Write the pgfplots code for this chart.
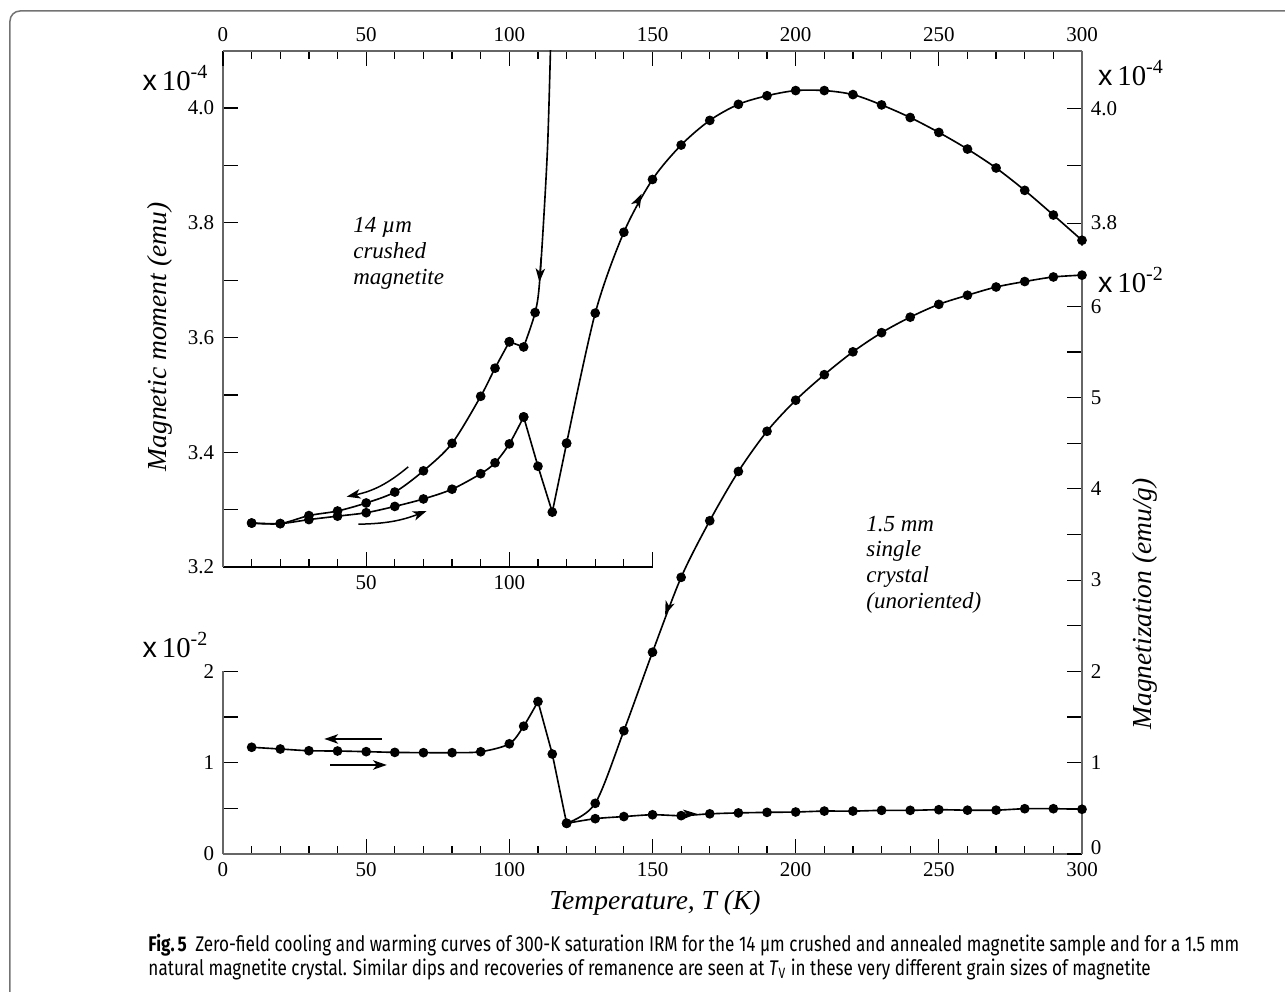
\documentclass[border=0pt]{standalone}
\usepackage{fontspec}
\setmainfont{Liberation Serif}
\setsansfont{Liberation Sans}
\newfontfamily\capfont{Fira Sans}
\usepackage{pgfplots}
\pgfplotsset{compat=1.18}
\usetikzlibrary{arrows.meta}

% 1 px of the reference = 0.4pt
\pgfplotsset{
  myframe/.style={scale only axis, xmin=0, xmax=300, width=343.6pt,
    tick style={black, line width=0.5pt},
    major tick length=6pt, minor tick length=3.2pt,
    tick label style={font=\fontsize{8.4}{10}\selectfont},
    /pgf/number format/assume math mode=true,
  },
  nolinearrows/.style={
    axis line style={-, black!60, line width=0.6pt},
    every outer x axis line/.append style={-},
    every outer y axis line/.append style={-},
    every inner x axis line/.append style={-},
    every inner y axis line/.append style={-},
  },
  mydata/.style={scale only axis, xmin=0, xmax=300, width=343.6pt,
    height=321.2pt, hide axis},
  curve/.style={black, line width=0.65pt},
  dots/.style={black, line width=0.65pt, mark=*, mark size=1.6pt,
    mark options={fill=black, solid}},
}
\tikzset{arr/.style={-{Stealth[length=5.5pt,width=3.8pt,inset=1.5pt]}, line width=0.6pt, black}}
\newcommand{\tenpow}[1]{{\sffamily x}\,10\raisebox{0.9ex}{\fontsize{8}{9}\selectfont #1}}

\begin{document}
\begin{tikzpicture}
\useasboundingbox (-89.2pt,-54.8pt) rectangle (424.8pt,341.6pt);

% frame corner
\draw[black!55, line width=0.6pt, rounded corners=4pt]
  (-85.2pt,-60pt) -- (-85.2pt,337.2pt) -- (430pt,337.2pt);

% bottom x axis and lower-left y axis (0..2 x 10^-2)
\begin{axis}[myframe, at={(0,0)}, anchor=south west, height=73.04pt,
  ymin=0, ymax=2,
  axis x line=bottom, axis y line=left, tick align=inside, nolinearrows,
  xtick={0,50,100,150,200,250,300}, xticklabels={0,50,100,150,200,250,300},
  minor xtick={10,20,30,40,60,70,80,90,110,120,130,140,160,170,180,190,210,220,230,240,260,270,280,290},
  ytick={0,0.5,1,1.5,2}, yticklabels={0,,1,,2}]
\end{axis}

% inset axis (14 um, x 10^-4 emu)
\begin{axis}[myframe, at={(0,114.8pt)}, anchor=south west,
  xmin=0, xmax=150, width=171.8pt, height=206.55pt,
  ymin=3.2, ymax=4.1,
  axis x line=bottom, axis y line=left, tick align=inside, nolinearrows,
  x axis line style={-, black, line width=0.8pt},
  xtick={50,100,150}, xticklabels={50,100,},
  minor xtick={10,20,30,40,60,70,80,90,110,120,130,140},
  ytick={3.2,3.3,3.4,3.5,3.6,3.7,3.8,3.9,4.0},
  yticklabels={3.2,,3.4,,3.6,,3.8,,4.0}]
\end{axis}

% top x axis and upper right y axis
\begin{axis}[myframe, at={(0,321.2pt)}, anchor=north west, height=78.03pt,
  ymin=3.76, ymax=4.1,
  axis x line=top, axis y line=right, tick align=inside, nolinearrows,
  xtick={0,50,100,150,200,250,300}, xticklabels={0,50,100,150,200,250,300},
  minor xtick={10,20,30,40,60,70,80,90,110,120,130,140,160,170,180,190,210,220,230,240,260,270,280,290},
  ytick={3.8,3.9,4.0}, yticklabels={3.8,,4.0}]
\end{axis}

% lower right y axis (x 10^-2 emu/g)
\begin{axis}[myframe, at={(0,0)}, anchor=south west, height=231.5pt,
  ymin=0, ymax=6.34,
  axis x line=none, axis y line=right, tick align=inside, nolinearrows, xtick=\empty,
  ytick={0,0.5,1,1.5,2,2.5,3,3.5,4,4.5,5,5.5,6},
  yticklabels={\raisebox{5pt}{0},,1,,2,,3,,4,,5,,6}]
\end{axis}

% 1.5 mm single crystal data (x 10^-2 emu/g)
\begin{axis}[mydata, at={(0,0)}, anchor=south west, ymin=0, ymax=8.795]
\addplot[dots, smooth] coordinates {
  (300,6.34)(290,6.32)(280,6.27)(270,6.21)(260,6.12)(250,6.02)(240,5.88)
  (230,5.71)(220,5.50)(210,5.25)(200,4.97)(190,4.63)(180,4.19)(170,3.65)
  (160,3.03)(150,2.21)(140,1.35)(130,0.555)(120,0.336)};
\addplot[curve] coordinates {(120,0.336)(115,1.095)(110,1.67)};
\addplot[dots, smooth] coordinates {
  (110,1.67)(105,1.40)(100,1.207)(90,1.12)(80,1.11)(70,1.11)(60,1.113)
  (50,1.121)(40,1.128)(30,1.131)(20,1.150)(10,1.169)};
\addplot[dots, smooth] coordinates {
  (120,0.336)(130,0.387)(140,0.41)(150,0.43)(160,0.42)(170,0.44)(180,0.45)
  (190,0.456)(200,0.46)(210,0.47)(220,0.47)(230,0.478)(240,0.478)(250,0.485)
  (260,0.48)(270,0.48)(280,0.496)(290,0.496)(300,0.49)};
\addplot[dots, only marks] coordinates {(115,1.095)};
\draw[arr] (axis cs:55.4,1.26) -- (axis cs:35.4,1.26);
\draw[arr] (axis cs:37.4,0.975) -- (axis cs:57.2,0.975);
\draw[arr] (axis cs:155.4,2.70) -- (axis cs:154.4,2.62);
\draw[arr] (axis cs:161,0.435) -- (axis cs:165.5,0.44);
\end{axis}

% 14 um crushed magnetite data (x 10^-4 emu)
\begin{axis}[mydata, at={(0,0)}, anchor=south west, ymin=2.7, ymax=4.1]
% warming
\addplot[dots, smooth] coordinates {
  (10,3.277)(20,3.276)(30,3.283)(40,3.289)(50,3.295)(60,3.306)(70,3.319)
  (80,3.336)(90,3.363)(95,3.382)(100,3.415)(105,3.462)};
\addplot[dots] coordinates {(105,3.462)(110,3.376)(115,3.296)(120,3.416)};
\addplot[dots, smooth] coordinates {
  (120,3.416)(130,3.643)(140,3.784)(150,3.876)(160,3.936)(170,3.979)
  (180,4.007)(190,4.022)(200,4.031)(210,4.031)(220,4.024)(230,4.006)
  (240,3.984)(250,3.958)(260,3.929)(270,3.896)(280,3.857)(290,3.814)(300,3.770)};
% cooling
\addplot[dots, smooth] coordinates {
  (10,3.277)(20,3.276)(30,3.290)(40,3.298)(50,3.312)(60,3.331)(70,3.368)
  (80,3.416)(90,3.498)(95,3.547)(100,3.593)};
\addplot[dots] coordinates {(100,3.593)(105,3.584)};
\addplot[curve, smooth] coordinates {
  (105,3.584)(109,3.644)(110.7,3.706)(113.3,3.927)(114.6,4.15)};
\addplot[dots, only marks] coordinates {(109,3.644)};
\draw[arr] (axis cs:64.7,3.375) to[bend left=14] (axis cs:43.2,3.323);
\draw[arr] (axis cs:47.3,3.275) to[bend right=10] (axis cs:71.1,3.298);
\draw[arr] (axis cs:111.1,3.74) -- (axis cs:110.5,3.697);
\draw[arr] (axis cs:144.5,3.834) -- (axis cs:146.2,3.851);
\end{axis}

% labels
\node[font=\fontsize{11}{13}\selectfont\itshape] at (172.8pt,-19.6pt) {Temperature, T (K)};
\node[font=\fontsize{11}{13}\selectfont\itshape, rotate=90] at (-25.2pt,206.8pt) {Magnetic moment (emu)};
\node[font=\fontsize{11}{13}\selectfont\itshape, rotate=90] at (368.8pt,100pt) {Magnetization (emu/g)};
\node[font=\fontsize{11.5}{13}\selectfont] at (-19.2pt,310.4pt) {\tenpow{-4}};
\node[font=\fontsize{11.5}{13}\selectfont] at (363pt,312.4pt) {\tenpow{-4}};
\node[font=\fontsize{11.5}{13}\selectfont] at (-19.2pt,83.6pt) {\tenpow{-2}};
\node[font=\fontsize{11.5}{13}\selectfont] at (363pt,229.6pt) {\tenpow{-2}};
\node[font=\fontsize{9.2}{10.4}\selectfont\itshape, anchor=west, align=left]
  at (48.6pt,240.4pt) {14 µm\\crushed\\magnetite};
\node[font=\fontsize{9.2}{10.3}\selectfont\itshape, anchor=west, align=left]
  at (253.8pt,115.8pt) {1.5 mm\\single\\crystal\\(unoriented)};

% caption
\node[anchor=west, inner sep=0pt, font=\capfont\fontsize{8.5}{10}\selectfont] at (-30pt,-36.4pt)
  {\scalebox{0.805}[1]{{\bfseries Fig.\,5}\enspace Zero-field cooling and warming curves of 300-K saturation IRM for the 14 µm crushed and annealed magnetite sample and for a 1.5 mm}};
\node[anchor=west, inner sep=0pt, font=\capfont\fontsize{8.5}{10}\selectfont] at (-30pt,-46pt)
  {\scalebox{0.805}[1]{natural magnetite crystal. Similar dips and recoveries of remanence are seen at \textit{T}\textsubscript{V} in these very different grain sizes of magnetite}};
\end{tikzpicture}
\end{document}
